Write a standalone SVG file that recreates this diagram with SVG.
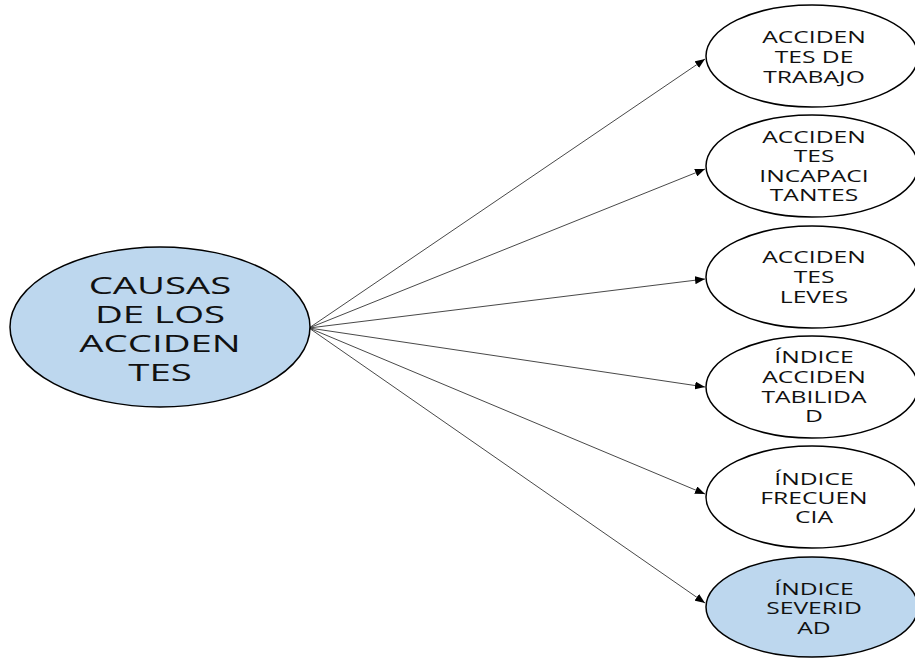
<svg xmlns="http://www.w3.org/2000/svg" width="915" height="658" viewBox="0 0 915 658">
  <style>
    .node { stroke: #000; stroke-width: 1.5; }
    .blue { fill: #bdd7ee; }
    .white { fill: #fff; }
    .lbl { font-family: "Open Sans", "Noto Sans", "DejaVu Sans", sans-serif; fill: #111; text-anchor: middle; }
    .big { font-size: 24px; }
    .small { font-size: 15.8px; }
    .edge { stroke: #333; stroke-width: 0.9; fill: none; marker-end: url(#arrow); }
  </style>
  <defs>
    <marker id="arrow" viewBox="0 0 10 8" refX="10" refY="4" markerWidth="10" markerHeight="8" markerUnits="userSpaceOnUse" orient="auto">
      <path d="M0,0 L10,4 L0,8 Z" fill="#000"/>
    </marker>
  </defs>

  <rect width="915" height="658" fill="#fff"/>

  <g id="connectors">
    <line class="edge" x1="309" y1="328" x2="705" y2="59"/>
    <line class="edge" x1="309" y1="328" x2="705" y2="169"/>
    <line class="edge" x1="309" y1="328" x2="705" y2="279"/>
    <line class="edge" x1="309" y1="328" x2="705" y2="387"/>
    <line class="edge" x1="309" y1="328" x2="705" y2="494"/>
    <line class="edge" x1="309" y1="328" x2="705" y2="603"/>
  </g>

  <g id="causas">
    <ellipse class="node blue" cx="160" cy="327" rx="150" ry="80"/>
    <g class="lbl big" transform="translate(160,0) scale(1.6,1)">
      <text x="0" y="294">CAUSAS</text>
      <text x="0" y="323">DE LOS</text>
      <text x="0" y="352">ACCIDEN</text>
      <text x="0" y="381">TES</text>
    </g>
  </g>

  <g id="accidentes-trabajo">
    <ellipse class="node white" cx="812" cy="56" rx="106" ry="51"/>
    <g class="lbl small" transform="translate(814,0) scale(1.56,1)">
      <text x="0" y="43">ACCIDEN</text>
      <text x="0" y="63">TES DE</text>
      <text x="0" y="83">TRABAJO</text>
    </g>
  </g>

  <g id="accidentes-incapacitantes">
    <ellipse class="node white" cx="812" cy="166" rx="106" ry="51"/>
    <g class="lbl small" transform="translate(814,0) scale(1.56,1)">
      <text x="0" y="143">ACCIDEN</text>
      <text x="0" y="162">TES</text>
      <text x="0" y="182">INCAPACI</text>
      <text x="0" y="201">TANTES</text>
    </g>
  </g>

  <g id="accidentes-leves">
    <ellipse class="node white" cx="812" cy="277" rx="106" ry="51"/>
    <g class="lbl small" transform="translate(814,0) scale(1.56,1)">
      <text x="0" y="263">ACCIDEN</text>
      <text x="0" y="283">TES</text>
      <text x="0" y="303">LEVES</text>
    </g>
  </g>

  <g id="indice-accidentabilidad">
    <ellipse class="node white" cx="812" cy="387" rx="106" ry="51"/>
    <g class="lbl small" transform="translate(814,0) scale(1.56,1)">
      <text x="0" y="363">ÍNDICE</text>
      <text x="0" y="383">ACCIDEN</text>
      <text x="0" y="403">TABILIDA</text>
      <text x="0" y="422">D</text>
    </g>
  </g>

  <g id="indice-frecuencia">
    <ellipse class="node white" cx="812" cy="497" rx="106" ry="51"/>
    <g class="lbl small" transform="translate(814,0) scale(1.56,1)">
      <text x="0" y="485">ÍNDICE</text>
      <text x="0" y="504">FRECUEN</text>
      <text x="0" y="523">CIA</text>
    </g>
  </g>

  <g id="indice-severidad">
    <ellipse class="node blue" cx="812" cy="607" rx="106" ry="50"/>
    <g class="lbl small" transform="translate(814,0) scale(1.56,1)">
      <text x="0" y="595">ÍNDICE</text>
      <text x="0" y="614">SEVERID</text>
      <text x="0" y="634">AD</text>
    </g>
  </g>
</svg>
